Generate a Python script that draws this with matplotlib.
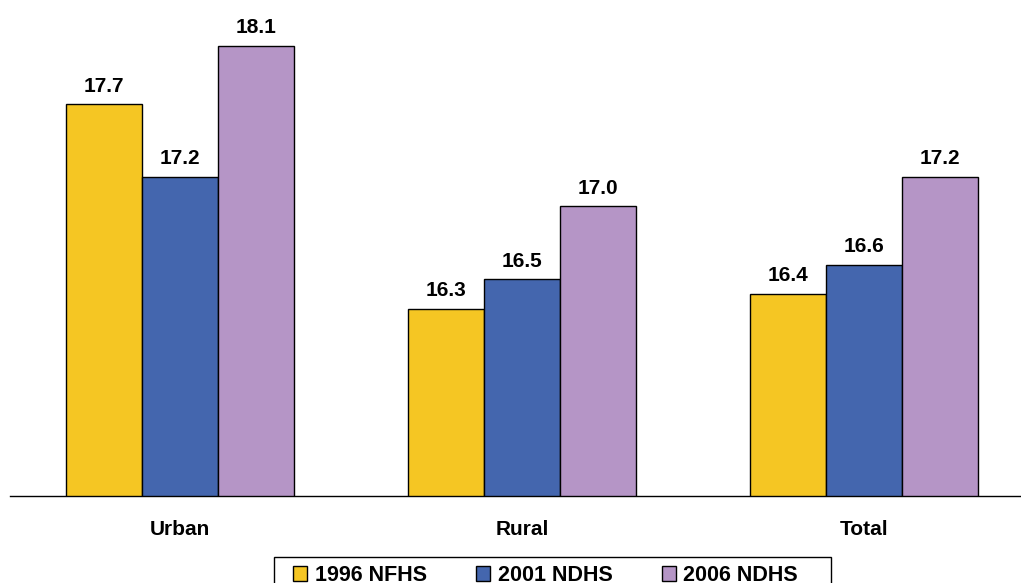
import numpy as np
import matplotlib.pyplot as plt
from matplotlib.patches import Rectangle

plt.rcParams['font.family'] = ['Liberation Sans', 'DejaVu Sans']

categories = ['Urban', 'Rural', 'Total']
series_names = ['1996 NFHS', '2001 NDHS', '2006 NDHS']
v1996 = [17.7, 16.3, 16.4]
v2001 = [17.2, 16.5, 16.6]
v2006 = [18.1, 17.0, 17.2]

colors = ['#F5C623', '#4466AE', '#B595C6']

fig = plt.figure(figsize=(10.21, 5.83), dpi=100)
ax = fig.add_axes([10 / 1021, 87 / 583, 1011 / 1021, 496 / 583])

x = np.arange(len(categories))
bar_width = 0.222
offsets = [-bar_width, 0, bar_width]

for vals, name, col, off in zip([v1996, v2001, v2006], series_names, colors, offsets):
    ax.bar(x + off, vals, bar_width, color=col, edgecolor='black',
           linewidth=1, label=name)
    for xi, v in zip(x + off, vals):
        ax.text(xi, v + 0.06, f'{v:.1f}', ha='center', va='bottom',
                fontsize=15, fontweight='bold', color='black')

ax.set_ylim(15.015, 18.415)
ax.set_xlim(-0.497, 2.459)

for s in ['top', 'right', 'left']:
    ax.spines[s].set_visible(False)
ax.spines['bottom'].set_color('black')
ax.spines['bottom'].set_linewidth(1)
ax.set_yticks([])
ax.set_xticks(x)
ax.set_xticklabels(categories, fontsize=15, fontweight='bold')
ax.tick_params(axis='x', length=0, pad=17)

# legend frame drawn by hand, runs past the bottom edge like the original
fig.patches.append(Rectangle((274 / 1021, -0.05), (831 - 274) / 1021, 0.05 + 26 / 583,
                             transform=fig.transFigure, facecolor='white',
                             edgecolor='black', linewidth=1, zorder=1))

leg = fig.legend(loc='upper left', bbox_to_anchor=(293 / 1021, 1 - 565 / 583),
                 ncol=3, frameon=False,
                 prop={'size': 15.5, 'weight': 'bold'}, handlelength=0.65,
                 handleheight=0.65, handletextpad=0.35, columnspacing=2.3,
                 borderpad=0, borderaxespad=0)
leg.set_zorder(2)

fig.savefig('out.png', dpi=100)
